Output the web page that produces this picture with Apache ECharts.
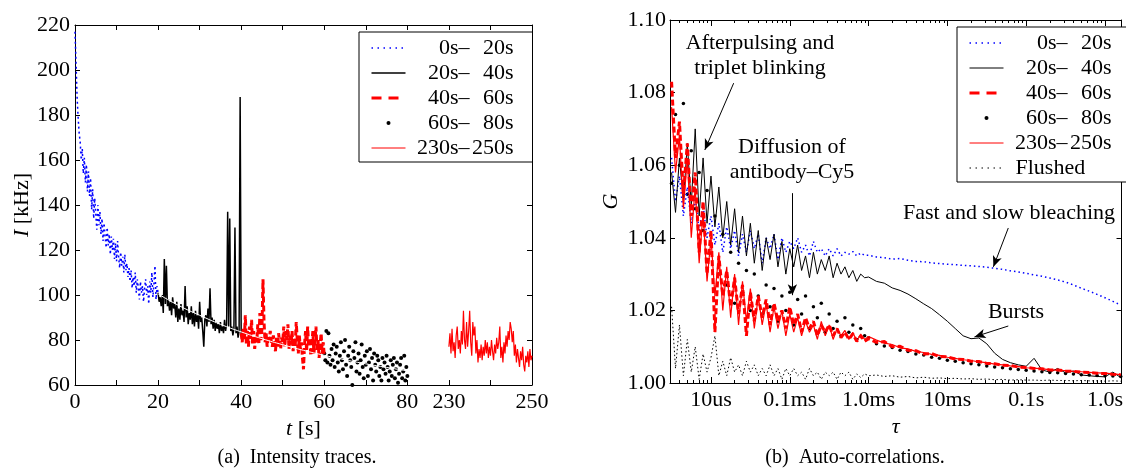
<!DOCTYPE html>
<html>
<head>
<meta charset="utf-8">
<script src="https://cdn.jsdelivr.net/npm/echarts@6.0.0/dist/echarts.min.js"></script>
<style>
  html, body { margin: 0; padding: 0; background: #fff; }
  #chart { width: 1126px; height: 476px; }
</style>
</head>
<body>
<div id="chart"></div>
<script>
// (a) intensity traces, one value every 0.25 s from the start of each window
const traceStep = 0.25;
const traceNames = ['0s–20s', '20s–40s', '40s–60s', '60s–80s', '230s–250s'];
const traceStarts = [0, 20, 40, 60, 230];

const trace0to20 = [
  217, 203, 188, 179, 172, 168, 160, 165, 154, 161,
  150, 158, 146, 155, 144, 152, 138, 147, 134, 143,
  136, 129, 140, 131, 137, 127, 134, 124, 132, 126,
  121, 130, 122, 127, 118, 126, 120, 125, 116, 123,
  115, 124, 117, 112, 119, 113, 117, 110, 118, 111,
  114, 108, 112, 106, 111, 103, 108, 104, 110, 101,
  107, 103, 98, 106, 101, 104, 97, 103, 107, 100,
  104, 96, 106, 101, 110, 99, 105, 113, 98, 104,
  101
];
const trace20to40 = [
  101, 97, 99, 95, 100, 92, 116, 96, 113, 95,
  98, 93, 97, 91, 99, 94, 96, 90, 97, 88,
  94, 89, 96, 91, 93, 88, 104, 90, 95, 87,
  92, 89, 95, 87, 92, 86, 93, 88, 91, 85,
  97, 88, 90, 84, 77, 89, 91, 86, 94, 88,
  103, 87, 90, 85, 89, 84, 88, 85, 87, 83,
  88, 84, 86, 83, 89, 84, 87, 137, 86, 134,
  84, 86, 82, 85, 130, 83, 86, 81, 84, 188,
  82
];
const trace40to60 = [
  83, 79, 85, 80, 91, 78, 84, 77, 86, 80,
  89, 78, 84, 76, 82, 79, 87, 78, 92, 80,
  85, 107, 88, 79, 83, 77, 82, 80, 84, 79,
  77, 82, 78, 75, 81, 77, 83, 79, 76, 81,
  79, 86, 77, 84, 80, 87, 76, 82, 78, 84,
  75, 81, 77, 88, 80, 74, 82, 76, 79, 72,
  67, 78, 84, 75, 86, 77, 81, 73, 78, 84,
  74, 79, 86, 75, 80, 72, 78, 83, 74, 79,
  73
];
const trace60to80 = [
  74, 71, 84, 70, 83, 73, 69, 76, 71, 78,
  68, 74, 77, 70, 66, 73, 79, 71, 67, 75,
  80, 69, 64, 73, 77, 71, 68, 60, 75, 72,
  79, 66, 70, 74, 65, 71, 78, 68, 63, 73,
  69, 75, 64, 70, 76, 67, 72, 62, 74, 69,
  66, 73, 71, 64, 68, 62, 72, 67, 70, 65,
  73, 68, 62, 66, 71, 64, 69, 72, 63, 67,
  70, 61, 65, 69, 72, 63, 66, 73, 62, 68,
  64
];
const trace230to250 = [
  77, 83, 74, 85, 75, 79, 72, 82, 86, 76,
  80, 74, 84, 78, 93, 80, 76, 88, 77, 84,
  93, 79, 73, 88, 82, 86, 74, 80, 70, 76,
  72, 78, 71, 77, 73, 80, 74, 79, 72, 77,
  73, 80, 75, 71, 78, 74, 81, 76, 79, 86,
  72, 77, 70, 79, 74, 82, 77, 84, 80, 88,
  85, 79, 84, 73, 78, 70, 76, 72, 68, 75,
  71, 77, 69, 66, 73, 70, 75, 68, 76, 71,
  73
];
const traces = [trace0to20, trace20to40, trace40to60, trace60to80, trace230to250];

// white bleaching fit over 20..80 s
const fitT = [20, 25, 30, 35, 40, 45, 50, 55, 60, 65, 70, 75, 80];
const fitI = [100.5, 95.3, 91, 87, 83.6, 80.6, 77.9, 75.4, 73.2, 71.2, 69.4, 67.8, 66.3];

// 80 s .. 230 s is cut out of the time axis; 230 s sits 10 s after 80 s
const breakShift = 140;

// (b) auto-correlations, lag given as log10(tau / s)
const lagLog10 = [
  -5.5, -5.45, -5.4, -5.35, -5.3, -5.25, -5.2, -5.15, -5.1, -5.05,
  -5.0, -4.95, -4.9, -4.85, -4.8, -4.75, -4.7, -4.65, -4.6, -4.55,
  -4.5, -4.45, -4.4, -4.35, -4.3, -4.25, -4.2, -4.15, -4.1, -4.05,
  -4.0, -3.95, -3.9, -3.85, -3.8, -3.75, -3.7, -3.65, -3.6, -3.55,
  -3.5, -3.45, -3.4, -3.35, -3.3, -3.25, -3.2, -3.15, -3.1, -3.05,
  -3.0, -2.9, -2.8, -2.7, -2.6, -2.5, -2.4, -2.3, -2.2, -2.1,
  -2.0, -1.9, -1.8, -1.7, -1.6, -1.5, -1.4, -1.3, -1.2, -1.1,
  -1.0, -0.9, -0.8, -0.7, -0.6, -0.5, -0.4, -0.3, -0.2, -0.1,
  0.0, 0.1, 0.2
];
const corr0to20 = [
  1.062, 1.050, 1.057, 1.046, 1.054, 1.044, 1.051, 1.042, 1.049, 1.040,
  1.046, 1.038, 1.044, 1.036, 1.043, 1.037, 1.042, 1.035, 1.041, 1.036,
  1.042, 1.037, 1.041, 1.033, 1.040, 1.037, 1.041, 1.034, 1.040, 1.036,
  1.039, 1.037, 1.040, 1.036, 1.038, 1.035, 1.039, 1.036, 1.037, 1.035,
  1.037, 1.035, 1.037, 1.035, 1.036, 1.0355, 1.0362, 1.035, 1.0358, 1.0352,
  1.0352, 1.0347, 1.0345, 1.0341, 1.0343, 1.0338, 1.0335, 1.0334, 1.0331, 1.0329,
  1.0327, 1.0326, 1.0324, 1.0323, 1.0321, 1.0319, 1.0316, 1.0313, 1.0309, 1.0306,
  1.0302, 1.0298, 1.0294, 1.0289, 1.0284, 1.0278, 1.0270, 1.0261, 1.0253, 1.0244,
  1.0235, 1.0225, 1.0215
];
const corr20to40 = [
  1.058, 1.047, 1.062, 1.050, 1.066, 1.049, 1.070, 1.046, 1.062, 1.044,
  1.057, 1.043, 1.054, 1.040, 1.050, 1.038, 1.048, 1.036, 1.046, 1.035,
  1.044, 1.033, 1.042, 1.031, 1.040, 1.034, 1.041, 1.032, 1.039, 1.030,
  1.037, 1.032, 1.038, 1.031, 1.035, 1.029, 1.036, 1.030, 1.034, 1.031,
  1.035, 1.029, 1.033, 1.030, 1.032, 1.029, 1.031, 1.028, 1.030, 1.029,
  1.0292, 1.0280, 1.0275, 1.0262, 1.0255, 1.0245, 1.0232, 1.0218, 1.0205, 1.0188,
  1.0170, 1.0150, 1.0130, 1.0122, 1.0124, 1.0108, 1.0082, 1.0065, 1.0056, 1.0050,
  1.0046, 1.0068, 1.0036, 1.0030, 1.0040, 1.0028, 1.0033, 1.0022, 1.0020, 1.0018,
  1.0017, 1.0030, 1.0015
];
const corr40to60 = [
  1.083, 1.062, 1.072, 1.052, 1.066, 1.046, 1.058, 1.036, 1.050, 1.030,
  1.042, 1.014, 1.035, 1.024, 1.031, 1.021, 1.029, 1.019, 1.027, 1.013,
  1.025, 1.017, 1.024, 1.018, 1.023, 1.016, 1.022, 1.017, 1.020, 1.015,
  1.021, 1.016, 1.019, 1.014, 1.018, 1.015, 1.017, 1.013, 1.016, 1.014,
  1.016, 1.013, 1.015, 1.0125, 1.014, 1.012, 1.0135, 1.0115, 1.013, 1.0115,
  1.0122, 1.0112, 1.0114, 1.0100, 1.0101, 1.0090, 1.0089, 1.0080, 1.0081, 1.0073,
  1.0072, 1.0066, 1.0065, 1.0060, 1.0059, 1.0054, 1.0053, 1.0049, 1.0048, 1.0044,
  1.0043, 1.0040, 1.0039, 1.0036, 1.0036, 1.0033, 1.0032, 1.0030, 1.0029, 1.0027,
  1.0026, 1.0024, 1.0023
];
const corr60to80 = [
  1.055, 1.074, 1.060, 1.077, 1.052, 1.064, 1.048, 1.058, 1.042, 1.053,
  1.038, 1.046, 1.030, 1.041, 1.027, 1.036, 1.022, 1.033, 1.025, 1.031,
  1.020, 1.030, 1.024, 1.019, 1.027, 1.021, 1.026, 1.017, 1.024, 1.020,
  1.025, 1.016, 1.023, 1.019, 1.024, 1.015, 1.021, 1.018, 1.022, 1.014,
  1.019, 1.015, 1.017, 1.013, 1.018, 1.014, 1.016, 1.012, 1.015, 1.013,
  1.0125, 1.0108, 1.0102, 1.0098, 1.0090, 1.0087, 1.0080, 1.0077, 1.0071, 1.0068,
  1.0063, 1.0060, 1.0056, 1.0053, 1.0050, 1.0047, 1.0044, 1.0042, 1.0039, 1.0037,
  1.0035, 1.0033, 1.0031, 1.0029, 1.0028, 1.0026, 1.0025, 1.0023, 1.0022, 1.0021,
  1.0020, 1.0019, 1.0018
];
const corr230to250 = [
  1.076, 1.058, 1.068, 1.048, 1.062, 1.040, 1.054, 1.033, 1.047, 1.028,
  1.040, 1.024, 1.036, 1.020, 1.032, 1.018, 1.030, 1.016, 1.028, 1.017,
  1.026, 1.015, 1.024, 1.016, 1.022, 1.014, 1.021, 1.015, 1.020, 1.013,
  1.019, 1.014, 1.018, 1.013, 1.017, 1.014, 1.016, 1.012, 1.017, 1.013,
  1.016, 1.012, 1.015, 1.013, 1.0145, 1.012, 1.014, 1.0115, 1.0135, 1.012,
  1.0128, 1.0118, 1.0110, 1.0106, 1.0097, 1.0094, 1.0087, 1.0084, 1.0079, 1.0076,
  1.0071, 1.0068, 1.0064, 1.0062, 1.0058, 1.0056, 1.0052, 1.0050, 1.0047, 1.0045,
  1.0042, 1.0041, 1.0039, 1.0037, 1.0035, 1.0034, 1.0032, 1.0031, 1.0029, 1.0028,
  1.0027, 1.0025, 1.0023
];
const corrFlushed = [
  1.021, 1.004, 1.016, 1.002, 1.012, 1.003, 1.010, 1.001, 1.008, 1.003,
  1.007, 1.013, 1.002, 1.006, 1.002, 1.007, 1.003, 1.005, 1.002, 1.006,
  1.003, 1.005, 1.002, 1.004, 1.002, 1.005, 1.002, 1.004, 1.001, 1.004,
  1.002, 1.004, 1.002, 1.003, 1.001, 1.004, 1.002, 1.003, 1.001, 1.003,
  1.002, 1.003, 1.001, 1.003, 1.002, 1.003, 1.001, 1.0025, 1.0015, 1.0025,
  1.002, 1.0022, 1.0018, 1.002, 1.0016, 1.0018, 1.0014, 1.0016, 1.0013, 1.0014,
  1.0012, 1.0013, 1.0011, 1.0012, 1.001, 1.0011, 1.0009, 1.001, 1.0008, 1.0009,
  1.0008, 1.0008, 1.0007, 1.0008, 1.0007, 1.0007, 1.0006, 1.0007, 1.0006, 1.0006,
  1.0005, 1.0006, 1.0005
];
const corrNames = ['0s–20s', '20s–40s', '40s–60s', '60s–80s', '230s–250s', 'Flushed'];

const lagTicks = [-5, -4, -3, -2, -1, 0];
const lagTickLabels = ['10us', '0.1ms', '1.0ms', '10ms', '0.1s', '1.0s'];

// annotation arrows: [fromLag, fromG, toLag, toG]
const arrows = [
  [-4.712, 1.0826, -5.078, 1.0642],
  [-3.967, 1.0523, -3.967, 1.0242],
  [-1.227, 1.0427, -1.416, 1.0320],
  [-1.227, 1.0157, -1.656, 1.0127]
];

const serif = 'Liberation Serif';
const lagMin = -5.52, lagMax = 0.21;

const minorLag = [];
for (let k = -6; k <= 0; k++) {
  for (let m = 2; m <= 9; m++) {
    const v = k + Math.log10(m);
    if (v > lagMin && v < lagMax) minorLag.push(v);
  }
}

function axisT(t) {
  return t > 80 ? t - breakShift : t;
}

function tracePoints(values, start) {
  return values.map((v, i) => [axisT(start + i * traceStep), v]);
}

function corrPoints(values) {
  return values.map((g, i) => [lagLog10[i], g]);
}

function tLabel(v) {
  if (v <= 80) return v % 20 === 0 ? String(v) : '';
  const t = v + breakShift;
  return t === 230 || t === 250 ? String(t) : '';
}

const nameStyle = {
  fontFamily: serif, fontSize: 22, color: '#000',
  rich: { it: { fontFamily: serif, fontSize: 22, fontStyle: 'italic', color: '#000' } }
};

function axis(opt) {
  const base = {
    type: 'value',
    axisLine: { show: true, onZero: false, lineStyle: { color: '#000', width: 1 } },
    axisTick: { show: true, inside: true, length: 5, lineStyle: { color: '#000', width: 1 } },
    axisLabel: { show: true, color: '#000', fontFamily: serif, fontSize: 22, margin: 6 },
    splitLine: { show: false }
  };
  const out = Object.assign({}, base, opt);
  ['axisLine', 'axisTick', 'axisLabel'].forEach(k => {
    if (opt[k]) out[k] = Object.assign({}, base[k], opt[k]);
  });
  return out;
}

function legendFormatter(name) {
  const p = name.split('–');
  return p.length === 2 ? `{a|${p[0]}–}{b|${p[1]}}` : `{c|${name}}`;
}

const legendRich = {
  a: { width: 59, align: 'right', fontFamily: serif, fontSize: 22, lineHeight: 22, color: '#000' },
  b: { width: 44, align: 'right', fontFamily: serif, fontSize: 22, lineHeight: 22, color: '#000' },
  c: { padding: [0, 0, 0, 7], fontFamily: serif, fontSize: 22, lineHeight: 22, color: '#000' }
};

function legendBox(left, top, padRight, data) {
  return {
    orient: 'vertical', left, top,
    padding: [5, padRight, 3, 11],
    itemWidth: 34, itemHeight: 4, itemGap: 3,
    borderColor: '#000', borderWidth: 1, backgroundColor: '#fff',
    selectedMode: false,
    formatter: legendFormatter,
    textStyle: { fontFamily: serif, fontSize: 22, color: '#000', rich: legendRich },
    data
  };
}

// legend line samples: hide the marker that ECharts puts on a line icon
const noMark = { opacity: 0 };

const chart = echarts.init(document.getElementById('chart'), null, { renderer: 'canvas' });

const option = {
  animation: false,
  backgroundColor: '#fff',
  textStyle: { fontFamily: serif },
  grid: [
    { left: 75, top: 25, width: 457, height: 360 },
    { left: 670, top: 20, width: 454, height: 363 }
  ],
  xAxis: [
    axis({ gridIndex: 0, position: 'bottom', min: 0, max: 110, interval: 10,
      axisLabel: { formatter: tLabel, margin: 6 },
      name: '{it|t} [s]', nameLocation: 'middle', nameGap: 23, nameTextStyle: nameStyle }),
    axis({ gridIndex: 0, position: 'top', min: 0, max: 110, interval: 10,
      axisLabel: { show: false } }),
    axis({ gridIndex: 1, position: 'bottom', min: lagMin, max: lagMax,
      axisTick: { customValues: lagTicks, length: 6 },
      axisLabel: { customValues: lagTicks, margin: 6,
        formatter: v => lagTickLabels[lagTicks.indexOf(Math.round(v))] || '' },
      name: '{it|τ}', nameLocation: 'middle', nameGap: 23, nameTextStyle: nameStyle }),
    axis({ gridIndex: 1, position: 'bottom', min: lagMin, max: lagMax,
      axisLine: { show: false },
      axisTick: { customValues: minorLag, length: 3 },
      axisLabel: { show: false } }),
    axis({ gridIndex: 1, position: 'top', min: lagMin, max: lagMax,
      axisTick: { customValues: lagTicks, length: 6 },
      axisLabel: { show: false } }),
    axis({ gridIndex: 1, position: 'top', min: lagMin, max: lagMax,
      axisLine: { show: false },
      axisTick: { customValues: minorLag, length: 3 },
      axisLabel: { show: false } })
  ],
  yAxis: [
    axis({ gridIndex: 0, position: 'left', min: 60, max: 220, interval: 20,
      axisLabel: { margin: 5 },
      name: '{it|I} [kHz]', nameLocation: 'middle', nameRotate: 90, nameGap: 42,
      nameTextStyle: nameStyle }),
    axis({ gridIndex: 0, position: 'right', min: 60, max: 220, interval: 20,
      axisLabel: { show: false } }),
    axis({ gridIndex: 1, position: 'left', min: 1.0, max: 1.1, interval: 0.02,
      axisLabel: { margin: 4, formatter: v => v.toFixed(2) },
      name: '{it|G}', nameLocation: 'middle', nameRotate: 90, nameGap: 48,
      nameTextStyle: nameStyle }),
    axis({ gridIndex: 1, position: 'right', min: 1.0, max: 1.1, interval: 0.02,
      axisLabel: { show: false } })
  ],
  legend: [
    legendBox(359, 32, 19, [
      { name: traceNames[0], itemStyle: noMark, lineStyle: { width: 1.5, type: [1.5, 4.5] } },
      { name: traceNames[1], itemStyle: noMark, lineStyle: { width: 1.5, type: 'solid' } },
      { name: traceNames[2], itemStyle: noMark, lineStyle: { width: 3, type: [10, 7] } },
      { name: traceNames[3], icon: 'circle', itemStyle: { color: '#000', opacity: 1 } },
      { name: traceNames[4], itemStyle: noMark, lineStyle: { width: 1, type: 'solid' } }
    ]),
    legendBox(957, 27, 15, [
      { name: corrNames[0], itemStyle: noMark, lineStyle: { width: 1.5, type: [1.5, 4.5] } },
      { name: corrNames[1], itemStyle: noMark, lineStyle: { width: 1, type: 'solid' } },
      { name: corrNames[2], itemStyle: noMark, lineStyle: { width: 3, type: [10, 7] } },
      { name: corrNames[3], icon: 'circle', itemStyle: { color: '#000', opacity: 1 } },
      { name: corrNames[4], itemStyle: noMark, lineStyle: { width: 1, type: 'solid' } },
      { name: corrNames[5], itemStyle: noMark, lineStyle: { width: 1, type: [1.5, 4.5] } }
    ])
  ],
  series: [
    { name: traceNames[0], type: 'line', xAxisIndex: 0, yAxisIndex: 0, symbol: 'none',
      color: '#0000ff', data: tracePoints(traces[0], traceStarts[0]),
      lineStyle: { color: '#0000ff', width: 1.5, type: [2, 3] } },
    { name: traceNames[1], type: 'line', xAxisIndex: 0, yAxisIndex: 0, symbol: 'none',
      color: '#000', data: tracePoints(traces[1], traceStarts[1]),
      lineStyle: { color: '#000', width: 1.5 } },
    { name: traceNames[2], type: 'line', xAxisIndex: 0, yAxisIndex: 0, symbol: 'none',
      color: '#ff0000', data: tracePoints(traces[2], traceStarts[2]),
      lineStyle: { color: '#ff0000', width: 3, type: [6, 3] } },
    { name: traceNames[3], type: 'scatter', xAxisIndex: 0, yAxisIndex: 0, symbolSize: 4,
      color: '#000', data: tracePoints(traces[3], traceStarts[3]),
      itemStyle: { color: '#000', opacity: 1 } },
    { name: traceNames[4], type: 'line', xAxisIndex: 0, yAxisIndex: 0, symbol: 'none',
      color: '#ff0000', data: tracePoints(traces[4], traceStarts[4]),
      lineStyle: { color: '#ff0000', width: 1.2 } },
    { type: 'line', xAxisIndex: 0, yAxisIndex: 0, symbol: 'none', smooth: true, z: 5,
      data: fitT.map((t, i) => [axisT(t), fitI[i]]),
      lineStyle: { color: '#ffffff', width: 1 } },

    { name: corrNames[0], type: 'line', xAxisIndex: 2, yAxisIndex: 2, symbol: 'none',
      color: '#0000ff', data: corrPoints(corr0to20),
      lineStyle: { color: '#0000ff', width: 1.5, type: [1.5, 3] } },
    { name: corrNames[1], type: 'line', xAxisIndex: 2, yAxisIndex: 2, symbol: 'none',
      color: '#000', data: corrPoints(corr20to40),
      lineStyle: { color: '#000', width: 1 } },
    { name: corrNames[2], type: 'line', xAxisIndex: 2, yAxisIndex: 2, symbol: 'none',
      color: '#ff0000', data: corrPoints(corr40to60),
      lineStyle: { color: '#ff0000', width: 3, type: [6, 3] } },
    { name: corrNames[3], type: 'scatter', xAxisIndex: 2, yAxisIndex: 2, symbolSize: 3.5,
      color: '#000', data: corrPoints(corr60to80),
      itemStyle: { color: '#000', opacity: 1 } },
    { name: corrNames[4], type: 'line', xAxisIndex: 2, yAxisIndex: 2, symbol: 'none',
      color: '#ff0000', data: corrPoints(corr230to250),
      lineStyle: { color: '#ff0000', width: 1.2 } },
    { name: corrNames[5], type: 'line', xAxisIndex: 2, yAxisIndex: 2, symbol: 'none',
      color: '#000', data: corrPoints(corrFlushed),
      lineStyle: { color: '#000', width: 1, type: [1.5, 2.5] } },
    { type: 'line', xAxisIndex: 2, yAxisIndex: 2, data: [], silent: true,
      markLine: {
        silent: true, animation: false,
        symbol: ['none', 'arrow'], symbolSize: [7, 11],
        label: { show: false },
        lineStyle: { color: '#000', width: 1, type: 'solid' },
        emphasis: { disabled: true },
        data: arrows.map(a => [{ coord: [a[0], a[1]] }, { coord: [a[2], a[3]] }])
      } }
  ],
  graphic: [
    { type: 'text', x: 760, y: 56, style: { text: 'Afterpulsing and\ntriplet blinking',
      fontFamily: serif, fontSize: 22, lineHeight: 25, fill: '#000', align: 'center', verticalAlign: 'middle' } },
    { type: 'text', x: 792, y: 160, style: { text: 'Diffusion of\nantibody–Cy5',
      fontFamily: serif, fontSize: 22, lineHeight: 25, fill: '#000', align: 'center', verticalAlign: 'middle' } },
    { type: 'text', x: 1009, y: 213, style: { text: 'Fast and slow bleaching',
      fontFamily: serif, fontSize: 22, fill: '#000', align: 'center', verticalAlign: 'middle' } },
    { type: 'text', x: 1016, y: 312, style: { text: 'Bursts',
      fontFamily: serif, fontSize: 22, fill: '#000', align: 'center', verticalAlign: 'middle' } },
    { type: 'text', x: 297, y: 458, style: { text: '(a)  Intensity traces.',
      fontFamily: serif, fontSize: 20, fill: '#000', align: 'center', verticalAlign: 'middle' } },
    { type: 'text', x: 855, y: 458, style: { text: '(b)  Auto-correlations.',
      fontFamily: serif, fontSize: 20, fill: '#000', align: 'center', verticalAlign: 'middle' } }
  ]
};

chart.setOption(option);
</script>
</body>
</html>
